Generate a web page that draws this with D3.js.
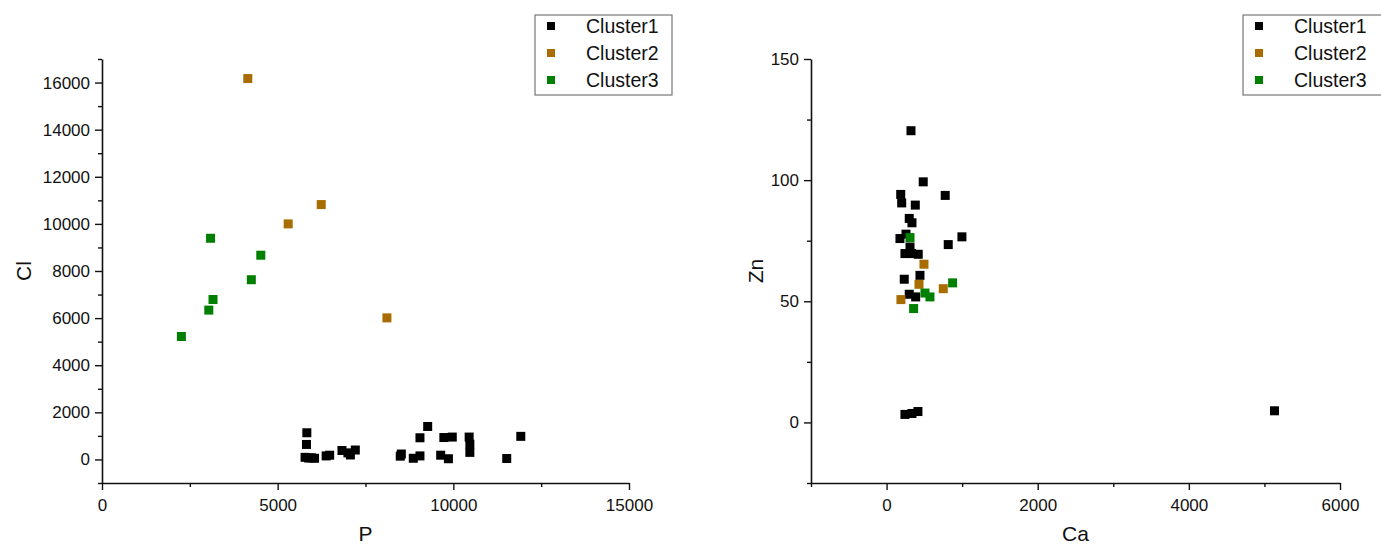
<!DOCTYPE html>
<html>
<head>
<meta charset="utf-8">
<script src="https://cdn.jsdelivr.net/npm/d3@7"></script>
<style>
  html, body { margin: 0; padding: 0; background: #fff; }
  svg { display: block; font-family: "Liberation Sans", Arial, sans-serif; }
</style>
</head>
<body>
<svg id="chart" width="1381" height="547"></svg>
<script>
// ---------------- DATA ----------------
const seriesNames = ["Cluster1", "Cluster2", "Cluster3"];

// Left panel: P (x) vs Cl (y)
const leftCluster1 = [
  [5830, 1133], [5820, 637], [5780, 90], [5880, 60], [5960, 70], [6050, 50],
  [6380, 150], [6480, 180], [6830, 380], [7000, 280], [7070, 190], [7210, 400],
  [8490, 140], [8520, 230], [8860, 50], [9050, 150], [9050, 920], [9270, 1400],
  [9640, 180], [9730, 930], [9860, 30], [9970, 950], [10450, 950], [10470, 650],
  [10470, 300], [11520, 40], [11920, 980]
];
const leftCluster2 = [[4150, 16170], [5300, 10000], [6240, 10820], [8110, 6010]];
const leftCluster3 = [[2260, 5220], [3090, 9390], [3040, 6340], [3160, 6790], [4250, 7630], [4520, 8670]];

// Right panel: Ca (x) vs Zn (y)
const rightCluster1 = [
  [323, 120.4], [485, 99.3], [187, 94.1], [200, 90.6], [380, 89.7], [776, 93.7],
  [300, 84.2], [336, 82.4], [177, 75.9], [257, 77.7], [310, 72.4], [243, 69.7],
  [332, 69.7], [419, 69.4], [816, 73.4], [997, 76.6], [442, 60.7], [234, 59.1],
  [300, 52.9], [385, 51.8], [243, 3.3], [336, 3.7], [415, 4.5], [5133, 4.8]
];
const rightCluster2 = [[495, 65.3], [429, 57.0], [750, 55.2], [190, 50.7]];
const rightCluster3 = [[310, 76.3], [874, 57.6], [508, 53.4], [574, 51.8], [358, 47.0]];

// Ticks
const leftXTicks = [0, 5000, 10000, 15000];
const leftXMinor = [2500, 7500, 12500];
const leftYTicks = [0, 2000, 4000, 6000, 8000, 10000, 12000, 14000, 16000];
const leftYMinor = [-1000, 1000, 3000, 5000, 7000, 9000, 11000, 13000, 15000, 17000];
const rightXTicks = [0, 2000, 4000, 6000];
const rightXMinor = [-1000, 1000, 3000, 5000];
const rightYTicks = [0, 50, 100, 150];
const rightYMinor = [-25, 25, 75, 125];

// ---------------- STYLE ----------------
const colors = ["#000000", "#a86c00", "#007f00"];
const svg = d3.select("#chart");

function panel(cfg) {
  const g = svg.append("g");
  const x = d3.scaleLinear().domain(cfg.xDomain).range(cfg.xRange);
  const y = d3.scaleLinear().domain(cfg.yDomain).range(cfg.yRange);
  const x0 = cfg.xRange[0], y0 = cfg.yRange[0];

  // minor ticks
  g.append("g").attr("transform", `translate(0,${y0})`)
    .call(d3.axisBottom(x).tickValues(cfg.xMinor).tickSize(4).tickFormat(""))
    .call(a => a.select(".domain").remove());
  g.append("g").attr("transform", `translate(${x0},0)`)
    .call(d3.axisLeft(y).tickValues(cfg.yMinor).tickSize(4).tickFormat(""))
    .call(a => a.select(".domain").remove());

  // major axes
  const xa = g.append("g").attr("transform", `translate(0,${y0})`)
    .call(d3.axisBottom(x).tickValues(cfg.xTicks).tickSize(7).tickSizeOuter(0).tickPadding(9).tickFormat(d3.format("d")));
  const ya = g.append("g").attr("transform", `translate(${x0},0)`)
    .call(d3.axisLeft(y).tickValues(cfg.yTicks).tickSize(7).tickSizeOuter(0).tickPadding(5).tickFormat(d3.format("d")));
  [xa, ya].forEach(a => {
    a.selectAll("text").attr("font-size", 17).attr("fill", "#111")
      .attr("font-family", "'Liberation Sans', Arial, sans-serif");
    a.select(".domain").attr("stroke", "#111").attr("stroke-width", 1.6);
  });
  g.selectAll("g.tick line").attr("stroke", "#111").attr("stroke-width", 1.4);

  // axis titles
  g.append("text").attr("x", (cfg.xRange[0] + cfg.xRange[1]) / 2).attr("y", 541)
    .attr("text-anchor", "middle").attr("font-size", 21).attr("fill", "#111").text(cfg.xTitle);
  g.append("text").attr("transform", `translate(${cfg.yTitleX},${(cfg.yRange[0] + cfg.yRange[1]) / 2}) rotate(-90)`)
    .attr("text-anchor", "middle").attr("font-size", 21).attr("fill", "#111").text(cfg.yTitle);

  // points
  const sz = 9;
  cfg.series.forEach((data, i) => {
    g.append("g").selectAll("rect").data(data).join("rect")
      .attr("x", d => x(d[0]) - sz / 2)
      .attr("y", d => y(d[1]) - sz / 2)
      .attr("width", sz).attr("height", sz)
      .attr("fill", colors[i]);
  });

  // legend
  const lg = g.append("g").attr("transform", `translate(${cfg.legend[0]},${cfg.legend[1]})`);
  lg.append("rect").attr("x", 0).attr("y", 0).attr("width", cfg.legendW).attr("height", 80)
    .attr("fill", "#fff").attr("stroke", "#777").attr("stroke-width", 1.2);
  seriesNames.forEach((name, i) => {
    const cy = 11 + i * 27;
    lg.append("rect").attr("x", 12).attr("y", cy - 4).attr("width", 8).attr("height", 8).attr("fill", colors[i]);
    lg.append("text").attr("x", 51).attr("y", cy).attr("dy", "0.36em")
      .attr("font-size", 19.5).attr("fill", "#111").text(name);
  });
}

panel({
  xDomain: [0, 15000], xRange: [102, 629],
  yDomain: [-1000, 17000], yRange: [483, 59],
  xTicks: leftXTicks, xMinor: leftXMinor, yTicks: leftYTicks, yMinor: leftYMinor,
  xTitle: "P", yTitle: "Cl", yTitleX: 31,
  series: [leftCluster1, leftCluster2, leftCluster3],
  legend: [535, 15], legendW: 137
});

panel({
  xDomain: [-1000, 6000], xRange: [811, 1340],
  yDomain: [-25, 150], yRange: [483, 59],
  xTicks: rightXTicks, xMinor: rightXMinor, yTicks: rightYTicks, yMinor: rightYMinor,
  xTitle: "Ca", yTitle: "Zn", yTitleX: 763,
  series: [rightCluster1, rightCluster2, rightCluster3],
  legend: [1243, 15], legendW: 145
});
</script>
</body>
</html>
